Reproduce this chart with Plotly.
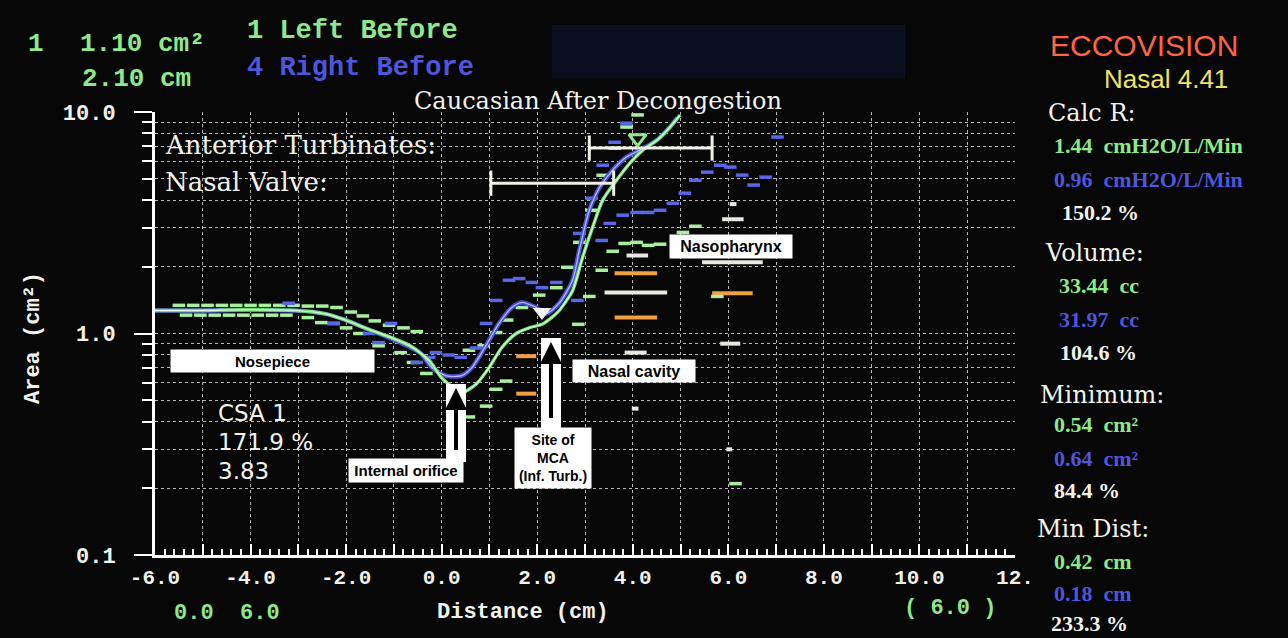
import plotly.graph_objects as go

# ---------------- data ----------------
# Left Before (green) acoustic rhinometry curve
dist_left = [-6.0, -5.06, -4.06, -3.06, -2.46, -2.06, -1.56, -1.06, -0.66, -0.26, 0.0, 0.29, 0.42, 0.72,
             0.99, 1.26, 1.56, 1.83, 2.10, 2.30, 2.46, 2.74, 2.95, 3.16, 3.37, 3.66, 3.94, 4.21, 4.51, 4.78, 4.99]
area_left = [1.27, 1.27, 1.28, 1.27, 1.23, 1.16, 1.05, 0.96, 0.88, 0.755, 0.63, 0.56, 0.54, 0.59,
             0.70, 0.865, 1.0, 1.06, 1.10, 1.18, 1.27, 1.56, 2.21, 3.02, 4.0, 4.92, 5.88, 6.73, 7.47, 8.55, 9.69]

# Right Before (blue) curve
dist_right = [-6.0, -5.06, -4.06, -3.06, -2.46, -2.06, -1.56, -1.06, -0.46, -0.2, 0.08, 0.18, 0.42, 0.63,
              0.99, 1.2, 1.47, 1.68, 1.98, 2.19, 2.46, 2.74, 2.88, 3.09, 3.31, 3.58, 3.87, 4.15, 4.51, 4.78, 4.93]
area_right = [1.27, 1.27, 1.28, 1.27, 1.23, 1.16, 1.05, 0.95, 0.82, 0.70, 0.645, 0.64, 0.645, 0.70,
              0.93, 1.11, 1.31, 1.38, 1.31, 1.23, 1.37, 1.74, 2.37, 3.6, 4.58, 5.47, 6.26, 6.73, 7.47, 8.55, 9.4]

# green SD dashes
green_sd_x = [-5.5, -5.2, -4.9, -4.6, -4.3, -4.0, -3.7, -3.4, -3.1, -2.8, -2.5, -2.2, -1.9, -1.65, -1.4, -1.1, -0.8, -0.52,
              -5.35, -5.05, -4.75, -4.45, -4.15, -3.85, -3.55, -3.25, -2.8, -2.52, -2.26, -2.0, -1.72, -1.32, -0.86, -0.6, -0.32,
              0.29, 0.57, 0.93, 1.14, 1.35, 0.57, 0.88,
              1.14, 1.37, 1.68, 2.04, 2.4, 2.63, 2.88, 3.14, 3.37, 3.62, 3.87, 4.1,
              2.86, 3.09, 3.35, 3.58, 3.83, 4.08, 4.32, 4.57, 5.05, 5.31, 5.77, 6.15]
green_sd_y = [1.34, 1.34, 1.34, 1.34, 1.34, 1.34, 1.34, 1.34, 1.34, 1.33, 1.33, 1.31, 1.25, 1.2, 1.14, 1.09, 1.06, 1.02,
              1.21, 1.21, 1.21, 1.21, 1.21, 1.21, 1.21, 1.21, 1.18, 1.12, 1.11, 1.06, 1.0, 0.88, 0.82, 0.74, 0.66,
              0.42, 0.42, 0.47, 0.56, 0.61, 0.84, 0.88,
              1.01, 1.15, 1.31, 1.49, 1.61, 1.99, 2.58, 3.6, 5.18, 6.87, 8.55, 9.7,
              1.1, 1.47, 1.93, 2.35, 2.55, 2.58, 2.5, 2.53, 2.86, 3.05, 1.47, 0.21]

# blue SD dashes
blue_sd_x = [-3.2, -2.26, -1.52, -1.32, -1.06, -0.52, -0.26, -0.12, 0.15, 0.4, 0.72, 0.93, 1.14, 1.41, 1.62, 1.89,
             2.1, 2.4, 2.84, 2.88, 3.14, 3.37, 3.62, 3.87, 3.35, 3.52, 3.79, 4.08, 4.32, 4.57, 4.84, 5.09, 5.31,
             5.56, 5.83, 6.04, 6.29, 6.53, 6.78, 7.03]
blue_sd_y = [1.37, 1.11, 1.0, 0.91, 1.11, 0.74, 0.78, 0.82, 0.8, 0.78, 0.86, 1.11, 1.41, 1.74, 1.77, 1.7,
             1.61, 1.7, 1.41, 2.83, 4.08, 5.75, 7.3, 8.9, 2.63, 3.14, 3.42, 3.52, 3.52, 3.6, 3.87, 4.3, 4.92,
             5.35, 5.75, 5.64, 5.19, 4.68, 5.08, 7.71]

# normative bars
white_x0 = [3.87, 3.41, 3.83, 3.98, 5.87, 6.03, 5.45, 5.83, 5.96]
white_x1 = [4.32, 4.72, 4.29, 4.12, 6.32, 6.17, 6.72, 6.25, 6.08]
white_y = [2.25, 1.53, 0.82, 0.458, 3.28, 3.84, 2.1, 0.90, 0.30]
orange_x0 = [3.62, 3.62, 5.66, 1.56, 1.56]
orange_x1 = [4.51, 4.51, 6.51, 1.98, 1.98]
orange_y = [1.87, 1.18, 1.52, 0.79, 0.535]

# range bars
valve_x = [1.03, 3.6]
valve_y = [4.77, 4.77]
turb_x = [3.09, 5.66]
turb_y = [6.87, 6.87]

# cursors
cursor1_x, cursor1_y = [2.10], [1.25]
cursor2_x, cursor2_y = [4.10], [7.6]

x_ticks = list(range(-6, 13))
x_ticktext = ["-6.0", "", "-4.0", "", "-2.0", "", "0.0", "", "2.0", "", "4.0", "", "6.0", "", "8.0", "", "10.0", "", "12."]
y_ticks = [0.1, 1, 10]
y_ticktext = ["0.1", "1.0", "10.0"]
y_minor = [0.2, 0.3, 0.4, 0.5, 0.6, 0.7, 0.8, 0.9, 2, 3, 4, 5, 6, 7, 8, 9]

# ---------------- layout geometry (pixels) ----------------
W, H = 1288, 638
L, R, T, B = 155, 1015, 112, 555

def px(x):
    return (x - L) / (R - L)

def py(y):
    return (B - y) / (B - T)

BG = "#070707"
GREEN = "#8fe88a"
BLUE = "#4a52d6"
WHITE = "#f2f2ec"
MONO = "Liberation Mono"

fig = go.Figure()

# normative bars
wx, wy = [], []
for a, b, y in zip(white_x0, white_x1, white_y):
    wx += [a, b, None]
    wy += [y, y, None]
ox, oy = [], []
for a, b, y in zip(orange_x0, orange_x1, orange_y):
    ox += [a, b, None]
    oy += [y, y, None]
fig.add_trace(go.Scatter(x=wx, y=wy, mode="lines", line=dict(color="#e8e8e0", width=4), hoverinfo="skip"))
fig.add_trace(go.Scatter(x=ox, y=oy, mode="lines", line=dict(color="#f0a040", width=4), hoverinfo="skip"))

# SD dashes
fig.add_trace(go.Scatter(x=green_sd_x, y=green_sd_y, mode="markers",
                         marker=dict(symbol="line-ew", size=9, line=dict(color="#a8f0a0", width=3.5)), hoverinfo="skip"))
fig.add_trace(go.Scatter(x=blue_sd_x, y=blue_sd_y, mode="markers",
                         marker=dict(symbol="line-ew", size=9, line=dict(color="#5866e8", width=3.5)), hoverinfo="skip"))

# curves
fig.add_trace(go.Scatter(x=dist_right, y=area_right, mode="lines", line=dict(color=BLUE, width=4.5, shape="spline", smoothing=0.7)))
fig.add_trace(go.Scatter(x=dist_right, y=area_right, mode="lines", line=dict(color="#b4bcff", width=1.2, shape="spline", smoothing=0.7)))
fig.add_trace(go.Scatter(x=dist_left, y=area_left, mode="lines", line=dict(color="#70e070", width=3.4, shape="spline", smoothing=0.7)))
fig.add_trace(go.Scatter(x=dist_left, y=area_left, mode="lines", line=dict(color="#e4ffe0", width=1.1, shape="spline", smoothing=0.7)))

# range bars
for bx, by in ((valve_x, valve_y), (turb_x, turb_y)):
    fig.add_trace(go.Scatter(x=bx, y=by, mode="lines+markers", line=dict(color="#f0f0e6", width=3),
                             marker=dict(symbol="line-ns", size=18, line=dict(color="#f0f0e6", width=3)), hoverinfo="skip"))

# cursors
fig.add_trace(go.Scatter(x=cursor1_x, y=cursor1_y, mode="markers",
                         marker=dict(symbol="triangle-down", size=16, color="#f4f4f4"), hoverinfo="skip"))
fig.add_trace(go.Scatter(x=cursor2_x, y=cursor2_y, mode="markers",
                         marker=dict(symbol="triangle-down-open", size=15, color=GREEN, line=dict(color=GREEN, width=3)),
                         hoverinfo="skip"))

anns = []

def txt(text, x, y, size, color, family, xanchor="left", **kw):
    d = dict(text=text, x=px(x), y=py(y), xref="paper", yref="paper", xanchor=xanchor, yanchor="middle",
             showarrow=False, font=dict(family=family, size=size, color=color))
    d.update(kw)
    anns.append(d)

# header (mono)
txt("<b>1</b>", 26, 44, 26, GREEN, MONO)
txt("<b>1.10 cm²</b>", 78, 44, 26, GREEN, MONO)
txt("<b>2.10 cm</b>", 80, 79, 26, GREEN, MONO)
txt("<b>1 Left Before</b>", 245, 31, 27, GREEN, MONO)
txt("<b>4 Right Before</b>", 245, 68, 27, "#4e56dc", MONO)
txt("<b>0.0  6.0</b>", 172, 613, 22, GREEN, MONO)
txt("<b>Distance (cm)</b>", 523, 612, 22, WHITE, MONO, xanchor="center")
txt("<b>( 6.0 )</b>", 902, 608, 22, GREEN, MONO)
txt("<b>Area (cm²)</b>", 33, 338, 22, WHITE, MONO, xanchor="center", textangle=-90)

# in-plot texts
txt("Caucasian After Decongestion", 598, 101, 24, WHITE, "DejaVu Serif", xanchor="center")
txt("Anterior Turbinates:", 163, 145, 26, WHITE, "DejaVu Serif")
txt("Nasal Valve:", 163, 182, 26, WHITE, "DejaVu Serif")
txt("CSA 1", 216, 413, 23, WHITE, "DejaVu Sans")
txt("171.9 %", 216, 442, 23, WHITE, "DejaVu Sans")
txt("3.83", 216, 471, 23, WHITE, "DejaVu Sans")

# label boxes
def box(text, cx, cy, w, h, size):
    anns.append(dict(text="<b>" + text + "</b>", x=px(cx), y=py(cy), xref="paper", yref="paper",
                     xanchor="center", yanchor="middle", showarrow=False, width=w, height=h,
                     bgcolor="white", borderpad=0, align="center",
                     font=dict(family="Liberation Sans", size=size, color="black")))

# arrows (white backing + black arrow)
shapes = []
for (x0, x1, y0, y1) in ((446, 466, 384, 462), (541, 561, 338, 430)):
    shapes.append(dict(type="rect", xref="paper", yref="paper", x0=px(x0), x1=px(x1), y0=py(y1), y1=py(y0),
                       fillcolor="white", line=dict(width=0), layer="above"))
for (xt, yt, ytail) in ((456, 388, 460), (551, 342, 428)):
    anns.append(dict(text=" ", x=px(xt), y=py(yt), xref="paper", yref="paper", showarrow=True,
                     ax=0, ay=ytail - yt, arrowhead=2, arrowsize=1.1, arrowwidth=4, arrowcolor="black", standoff=0))

box("Nosepiece", 272, 361, 203, 22, 15)
box("Internal orifice", 406, 471, 114, 23, 15)
box("Site of<br>MCA<br>(Inf. Turb.)", 553, 458, 76, 60, 14)
box("Nasal cavity", 634, 371, 122, 22, 16)
box("Nasopharynx", 731, 246, 122, 23, 16)

# right panel
txt("ECCOVISION", 1144, 45, 30, "#ff6446", "Liberation Sans", xanchor="center")
txt("Nasal 4.41", 1166, 79, 26, "#f0e268", "Liberation Sans", xanchor="center")
HS = "DejaVu Serif"
VS = "Liberation Serif"
txt("Calc R:", 1046, 113, 24, WHITE, HS)
txt("<b>1.44  cmH2O/L/Min</b>", 1052, 145, 22, GREEN, VS)
txt("<b>0.96  cmH2O/L/Min</b>", 1052, 179, 22, "#4e56dc", VS)
txt("<b>150.2 %</b>", 1060, 212, 22, WHITE, VS)
txt("Volume:", 1043, 253, 24, WHITE, HS)
txt("<b>33.44  cc</b>", 1057, 285, 22, GREEN, VS)
txt("<b>31.97  cc</b>", 1057, 319, 22, "#4e56dc", VS)
txt("<b>104.6 %</b>", 1058, 352, 22, WHITE, VS)
txt("Minimum:", 1038, 395, 24, WHITE, HS)
txt("<b>0.54  cm²</b>", 1052, 425, 22, GREEN, VS)
txt("<b>0.64  cm²</b>", 1052, 458, 22, "#4e56dc", VS)
txt("<b>84.4 %</b>", 1052, 490, 22, WHITE, VS)
txt("Min Dist:", 1035, 529, 24, WHITE, HS)
txt("<b>0.42  cm</b>", 1052, 561, 22, GREEN, VS)
txt("<b>0.18  cm</b>", 1052, 593, 22, "#4e56dc", VS)
txt("<b>233.3 %</b>", 1049, 623, 22, WHITE, VS)

# blurred top band
shapes.append(dict(type="rect", xref="paper", yref="paper", x0=px(552), x1=px(905), y0=py(78), y1=py(25),
                   fillcolor="rgba(22,30,80,0.32)", line=dict(width=0), layer="below"))

fig.update_layout(
    width=W, height=H,
    margin=dict(l=L, r=W - R, t=T, b=H - B, pad=0),
    paper_bgcolor=BG, plot_bgcolor=BG,
    showlegend=False,
    annotations=anns, shapes=shapes,
    xaxis=dict(range=[-6, 12], tickvals=x_ticks, ticktext=x_ticktext,
               showgrid=True, gridcolor="#b8b8b8", griddash="dot", gridwidth=1,
               ticks="inside", ticklen=11, tickwidth=2, tickcolor="white",
               minor=dict(dtick=0.2, ticks="inside", ticklen=6, tickwidth=2, tickcolor="white", showgrid=False),
               showline=True, linecolor="white", linewidth=3, zeroline=False,
               tickfont=dict(family=MONO, size=21, color=WHITE, weight="bold"), ticklabelstandoff=1),
    yaxis=dict(type="log", range=[-1, 1], tickvals=y_ticks, ticktext=y_ticktext,
               showgrid=True, gridcolor="#b8b8b8", griddash="dot", gridwidth=1,
               ticks="outside", ticklen=18, tickwidth=2, tickcolor="white",
               minor=dict(tickvals=y_minor, ticks="outside", ticklen=10, tickwidth=2, tickcolor="white",
                          showgrid=True, gridcolor="#b8b8b8", griddash="dot", gridwidth=1),
               showline=True, linecolor="white", linewidth=3, zeroline=False,
               tickfont=dict(family=MONO, size=22, color=WHITE, weight="bold"), ticklabelstandoff=14),
)

fig.write_html("out.html", config={"displayModeBar": False},
               post_script="document.body.style.margin='0';document.body.style.background='#070707';")
